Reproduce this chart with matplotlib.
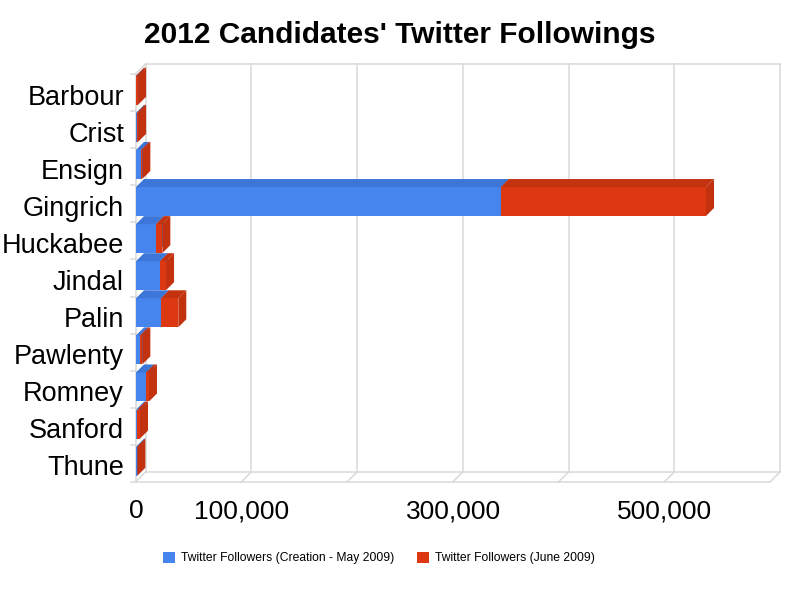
import matplotlib
matplotlib.use('Agg')
import matplotlib.pyplot as plt
from matplotlib.patches import Polygon, Rectangle
from matplotlib.transforms import ScaledTranslation, blended_transform_factory

# ---------------- data ----------------
candidates = ['Barbour', 'Crist', 'Ensign', 'Gingrich', 'Huckabee', 'Jindal',
              'Palin', 'Pawlenty', 'Romney', 'Sanford', 'Thune']
followers_may = [100, 700, 4700, 345000, 18900, 22700, 23600, 3800, 9500, 1300, 900]
followers_june = [1900, 1300, 1300, 194000, 6000, 5700, 16400, 2200, 2800, 2500, 400]
series_names = ['Twitter Followers (Creation - May 2009)', 'Twitter Followers (June 2009)']
grid_values = [0, 100000, 200000, 300000, 400000, 500000, 600000]
tick_values = [0, 100000, 300000, 500000]
tick_labels = ['0', '100,000', '300,000', '500,000']
title = "2012 Candidates' Twitter Followings"

# ---------------- style ----------------
plt.rcParams['font.family'] = ['Liberation Sans', 'DejaVu Sans']
blue = dict(front='#4684ee', top='#3b76d8', side='#3a6ec4')
red = dict(front='#dc3912', top='#c4330f', side='#c2320f')
grid_c = '#d9d9d9'
WALL = 10   # px depth of walls
BD = 8      # px depth of bars
DPI = 100

W, H = 800, 600
fig = plt.figure(figsize=(W / DPI, H / DPI), dpi=DPI)
ax = fig.add_axes([135.5 / W, 1 - 482 / H, 634.5 / W, 408 / H])
n = len(candidates)
ax.set_xlim(0, grid_values[-1])
ax.set_ylim(n - 0.5, -0.5)
ax.axis('off')


def off(dx, dy):
    return ScaledTranslation(dx / DPI, dy / DPI, fig.dpi_scale_trans)


xpp = grid_values[-1] / ax.bbox.width   # data per pixel (x)
ypp = n / ax.bbox.height                # data per pixel (y)
lw = 1.1
y0, y1 = -0.5, n - 0.5

# back wall + floor
back = ax.transData + off(WALL, WALL)
for xv in grid_values:
    ax.plot([xv, xv], [y0, y1], color=grid_c, lw=lw, transform=back, clip_on=False, zorder=1)
    ax.plot([xv, xv + WALL * xpp], [y1, y1 - WALL * ypp], color=grid_c, lw=lw,
            clip_on=False, zorder=1)
for yv in (y0, y1):
    ax.plot([0, grid_values[-1]], [yv, yv], color=grid_c, lw=lw, transform=back,
            clip_on=False, zorder=1)
ax.plot([0, grid_values[-1]], [y1, y1], color=grid_c, lw=lw, clip_on=False, zorder=1)
# left wall
ax.plot([0, 0], [y0, y1], color=grid_c, lw=lw, clip_on=False, zorder=1)
ax.plot([0, WALL * xpp], [y0, y0 - WALL * ypp], color=grid_c, lw=lw, clip_on=False, zorder=1)
for k in range(n + 1):
    ax.plot([-5 * xpp, 0], [y0 + k, y0 + k], color=grid_c, lw=lw, clip_on=False, zorder=1)

# bars (3D look)
bh = 29 * ypp
sy = -2.3 * ypp
sx = 0.5 * xpp
dx, dy = BD * xpp, BD * ypp
lefts = [0.0] * n
for vals, cols in ((followers_may, blue), (followers_june, red)):
    ys = [i + sy for i in range(n)]
    ax.barh(ys, vals, left=[l + sx for l in lefts], height=bh, color=cols['front'],
            linewidth=0, zorder=3, clip_on=False)
    for i in range(n):
        x0 = lefts[i] + sx
        x1 = x0 + vals[i]
        yt = ys[i] - bh / 2
        yb = ys[i] + bh / 2
        ax.add_patch(Polygon([(x0, yt), (x1, yt), (x1 + dx, yt - dy), (x0 + dx, yt - dy)],
                             closed=True, fc=cols['top'], ec='none', zorder=3, clip_on=False))
        ax.add_patch(Polygon([(x1, yt), (x1 + dx, yt - dy), (x1 + dx, yb - dy), (x1, yb)],
                             closed=True, fc=cols['side'], ec='none', zorder=3, clip_on=False))
        lefts[i] += vals[i]

# category labels
for i, name in enumerate(candidates):
    ax.text(0, i, name, transform=ax.transData + off(-11.5, -12), ha='right',
            va='baseline', fontsize=19.5, color='black')

# x tick labels
bt = blended_transform_factory(ax.transData, ax.transAxes)
for v, lab in zip(tick_values, tick_labels):
    ax.text(v, 0, lab, transform=bt + off(0.5, -36), ha='center', va='baseline',
            fontsize=19, color='black')

# title
fig.text(400 / W, 1 - 35 / H, title, ha='center', va='center', fontsize=21.5,
         fontweight='bold', color='black')

# legend
lx = [163, 417]
for xpos, name, cols in zip(lx, series_names, (blue, red)):
    fig.patches.append(Rectangle((xpos / W, 1 - 563 / H), 12 / W, 11 / H,
                                 transform=fig.transFigure, fc=cols['front'], ec='none'))
    fig.text((xpos + 18) / W, 1 - 558 / H, name, ha='left', va='center', fontsize=8.7,
             color='black')

fig.savefig('out.png', dpi=DPI)
